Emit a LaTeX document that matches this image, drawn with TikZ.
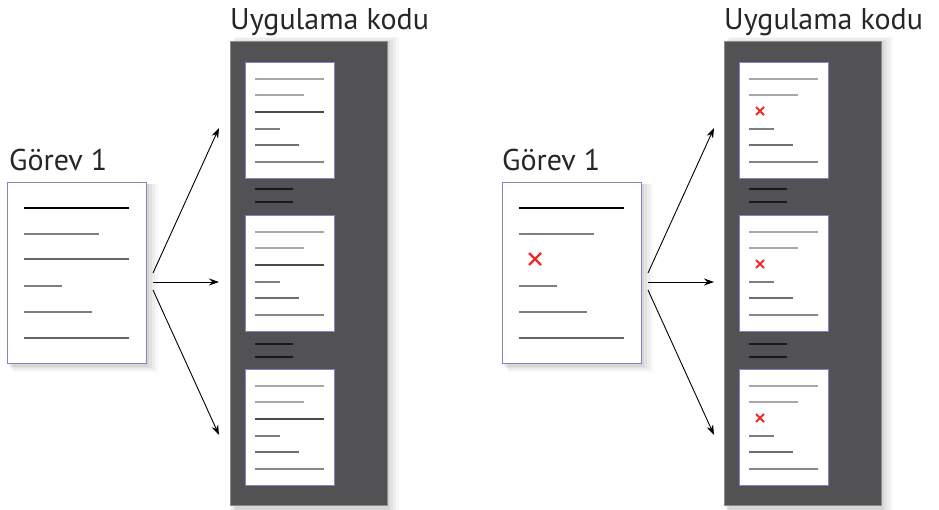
\documentclass[tikz,border=0pt]{standalone}
\usepackage{fontspec}
\setmainfont{PT Sans}
\usetikzlibrary{arrows.meta,shadows}
\definecolor{colfill}{HTML}{525254}
\definecolor{framec}{HTML}{8482C2}
\definecolor{lg}{HTML}{A8A8A8}
\definecolor{mg}{HTML}{7E7E7E}
\definecolor{dg}{HTML}{4A4A4A}
\definecolor{redx}{HTML}{EE2A24}
\tikzset{
  lbl/.style={font=\fontsize{30}{34}\selectfont, anchor=base west, inner sep=0pt, text=black!85},
  softshadow/.style={
     general shadow={shadow xshift=2pt, shadow yshift=-2pt, opacity=0.05, fill=black, shadow scale=1.01},
     general shadow={shadow xshift=4pt, shadow yshift=-3pt, opacity=0.05, fill=black, shadow scale=1.02},
     general shadow={shadow xshift=6pt, shadow yshift=-4pt, opacity=0.04, fill=black, shadow scale=1.03},
     general shadow={shadow xshift=8pt, shadow yshift=-5pt, opacity=0.03, fill=black, shadow scale=1.04}},
  taskbox/.style={draw=framec, line width=1.2pt, fill=white, anchor=north west, minimum width=139pt, minimum height=181pt, inner sep=0pt, softshadow},
  column/.style={fill=colfill, draw=black!45, line width=0.5pt, anchor=north west, minimum width=157pt, minimum height=464pt, inner sep=0pt, softshadow},
  pagebox/.style={draw=framec, line width=1pt, fill=white, anchor=north west, minimum width=89pt, minimum height=116pt, inner sep=0pt},
  txl/.style={line width=1.3pt},
  sep/.style={line width=1.3pt, black!90},
  xmark/.style={redx, line width=2.4pt},
  arr/.style={line width=0.9pt, -{Stealth[length=10pt,width=7pt]}},
}
% page with lines; #1 name, #2 x, #3 y, #4 1 if red x
\newcommand\docpage[4]{%
  \node[pagebox] (#1) at (#2,#3) {};
  \draw[txl,lg] ([shift={(10pt,-17pt)}]#1.north west) -- ++(69pt,0);
  \draw[txl,lg] ([shift={(10pt,-33pt)}]#1.north west) -- ++(49pt,0);
  \ifnum#4=0
    \draw[txl,dg] ([shift={(10pt,-50pt)}]#1.north west) -- ++(69pt,0);
  \else
    \draw[xmark,line width=2pt] ([shift={(17pt,-45pt)}]#1.north west) -- ++(8pt,-8pt)
        ([shift={(25pt,-45pt)}]#1.north west) -- ++(-8pt,-8pt);
  \fi
  \draw[txl,mg] ([shift={(10pt,-67pt)}]#1.north west) -- ++(25pt,0);
  \draw[txl,dg!80] ([shift={(10pt,-83pt)}]#1.north west) -- ++(44pt,0);
  \draw[txl,lg!80!black] ([shift={(10pt,-100pt)}]#1.north west) -- ++(69pt,0);
}
\newcommand\sepmarks[3]{%
  \coordinate (#1) at (#2,#3);
  \draw[sep] (#1) -- ++(38pt,0) ([yshift=-13pt]#1) -- ++(38pt,0);
}
\newcommand\taskdoc[4]{%
  \node[taskbox] (#1) at (#2,#3) {};
  \draw[txl,black] ([shift={(17pt,-26pt)}]#1.north west) -- ++(105pt,0);
  \draw[txl,mg] ([shift={(17pt,-52pt)}]#1.north west) -- ++(75pt,0);
  \ifnum#4=0
    \draw[txl,mg!80!black] ([shift={(17pt,-77pt)}]#1.north west) -- ++(105pt,0);
  \else
    \draw[xmark] ([shift={(27pt,-71pt)}]#1.north west) -- ++(12pt,-12pt)
        ([shift={(39pt,-71pt)}]#1.north west) -- ++(-12pt,-12pt);
  \fi
  \draw[txl,mg] ([shift={(17pt,-104pt)}]#1.north west) -- ++(38pt,0);
  \draw[txl,mg] ([shift={(17pt,-130pt)}]#1.north west) -- ++(68pt,0);
  \draw[txl,mg!80!black] ([shift={(17pt,-156pt)}]#1.north west) -- ++(105pt,0);
}
\begin{document}
\begin{tikzpicture}[x=1pt,y=-1pt]
\useasboundingbox (0,0) rectangle (939,509);
% ---------- left half ----------
\node[lbl] (t1) at (9,170) {Görev 1};
\node[lbl] (u1) at (230,29) {Uygulama kodu};
\node[column] (c1) at (230,41) {};
\taskdoc{g1}{7}{182}{0}
\docpage{a1}{245}{62}{0}
\sepmarks{s1}{255}{189}
\docpage{a2}{245}{215}{0}
\sepmarks{s2}{255}{344}
\docpage{a3}{245}{369}{0}
\coordinate (o1t) at (153,273);
\coordinate (o1m) at (153,282);
\coordinate (o1b) at (153,290);
\coordinate (e1t) at (219,128);
\coordinate (e1m) at (219,282);
\coordinate (e1b) at (219,435);
\draw[arr] (o1t) -- (e1t);
\draw[arr] (o1m) -- (e1m);
\draw[arr] (o1b) -- (e1b);
% ---------- right half ----------
\node[lbl] (t2) at (502,170) {Görev 1};
\node[lbl] (u2) at (724,29) {Uygulama kodu};
\node[column] (c2) at (724,41) {};
\taskdoc{g2}{502}{182}{1}
\docpage{b1}{739}{62}{1}
\sepmarks{s3}{749}{189}
\docpage{b2}{739}{215}{1}
\sepmarks{s4}{749}{344}
\docpage{b3}{739}{369}{1}
\coordinate (o2t) at (648,273);
\coordinate (o2m) at (648,282);
\coordinate (o2b) at (648,290);
\coordinate (e2t) at (714,128);
\coordinate (e2m) at (714,282);
\coordinate (e2b) at (714,435);
\draw[arr] (o2t) -- (e2t);
\draw[arr] (o2m) -- (e2m);
\draw[arr] (o2b) -- (e2b);
\end{tikzpicture}
\end{document}
